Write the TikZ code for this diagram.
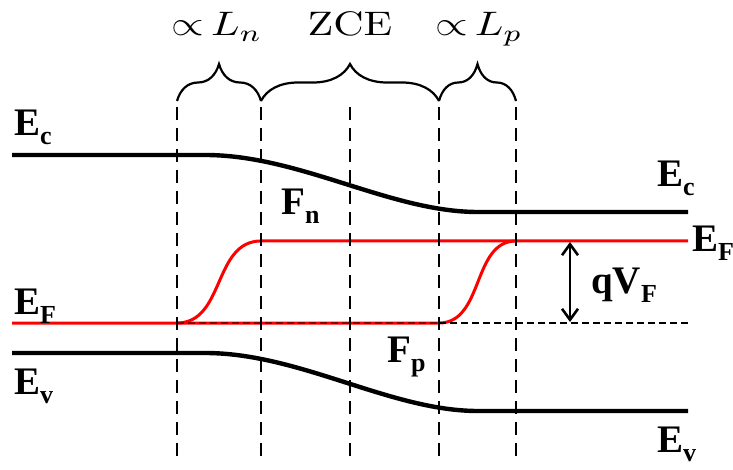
\documentclass[tikz,border=0pt]{standalone}
\usepackage{fontspec}
\newfontfamily\tnr{Liberation Serif}
\usetikzlibrary{decorations.pathreplacing,arrows.meta}
\newcommand\sbs[1]{\raisebox{-9pt}{\fontsize{26}{26}\selectfont #1}}
\begin{document}
\begin{tikzpicture}[x=1pt,y=-1pt,
  band/.style={line width=4.4pt},
  fermi/.style={red, line width=3pt},
  vdash/.style={line width=2.8pt, dash pattern=on 13pt off 8pt},
  hdash/.style={line width=2.6pt, dash pattern=on 7pt off 4pt},
  brc/.style={line width=2.2pt, decorate, decoration={brace, amplitude=37pt}},
  lab/.style={inner sep=0pt, anchor=base west, font=\tnr\bfseries\fontsize{39}{39}\selectfont},
  toplab/.style={inner sep=0pt, anchor=base, xscale=4.2, yscale=3.4},
  barb/.style={line width=2.6pt, {Straight Barb[length=11pt,width=16pt]}-{Straight Barb[length=11pt,width=16pt]}},
]
\useasboundingbox (0,0) rectangle (733,470);
% bands
\draw[band] (12,155) -- (205,155) .. controls (300,155) and (390,212) .. (478,212) -- (688,212);
\draw[band] (12,353) -- (205,353) .. controls (300,353) and (390,411) .. (478,411) -- (688,411);
% quasi Fermi levels
\draw[fermi] (12,323) -- (177,323) .. controls (225,323) and (213,241) .. (261,241) -- (688,241);
\draw[fermi] (177,323) -- (439,323) .. controls (484,323) and (472,241) .. (516,241);
\draw[hdash, black, opacity=.45] (177,323) -- (439,323);
\draw[hdash] (439,323) -- (688,323);
% vertical dashed lines
\foreach \x in {177,261,350,439,516}
  \draw[vdash] (\x,107) -- (\x,456);
% braces
\draw[brc] (177,101) -- (261,101);
\draw[brc] (261,101) -- (439,101);
\draw[brc] (439,101) -- (516,101);
\node[toplab] (ln) at (217,36) {${\propto}\,L_n$};
\node[toplab] (zce) at (350,36) {ZCE};
\node[toplab] (lp) at (479,36) {${\propto}\,L_p$};
% labels
\node[lab] (ecl) at (14,136) {E\sbs{c}};
\node[lab] (efl) at (14,314) {E\sbs{F}};
\node[lab] (evl) at (14,394) {E\sbs{v}};
\node[lab] (ecr) at (657,187) {E\sbs{c}};
\node[lab] (efr) at (692,252) {E\sbs{F}};
\node[lab] (evr) at (657,452) {E\sbs{v}};
\node[lab] (fn) at (281,215) {F\sbs{n}};
\node[lab] (fp) at (387,362) {F\sbs{p}};
\node[lab] (qv) at (591,294) {qV\sbs{F}};
% arrow
\coordinate (qt) at (570,242);
\coordinate (qb) at (570,322);
\draw[barb] (qt) -- (qb);
\end{tikzpicture}
\end{document}
